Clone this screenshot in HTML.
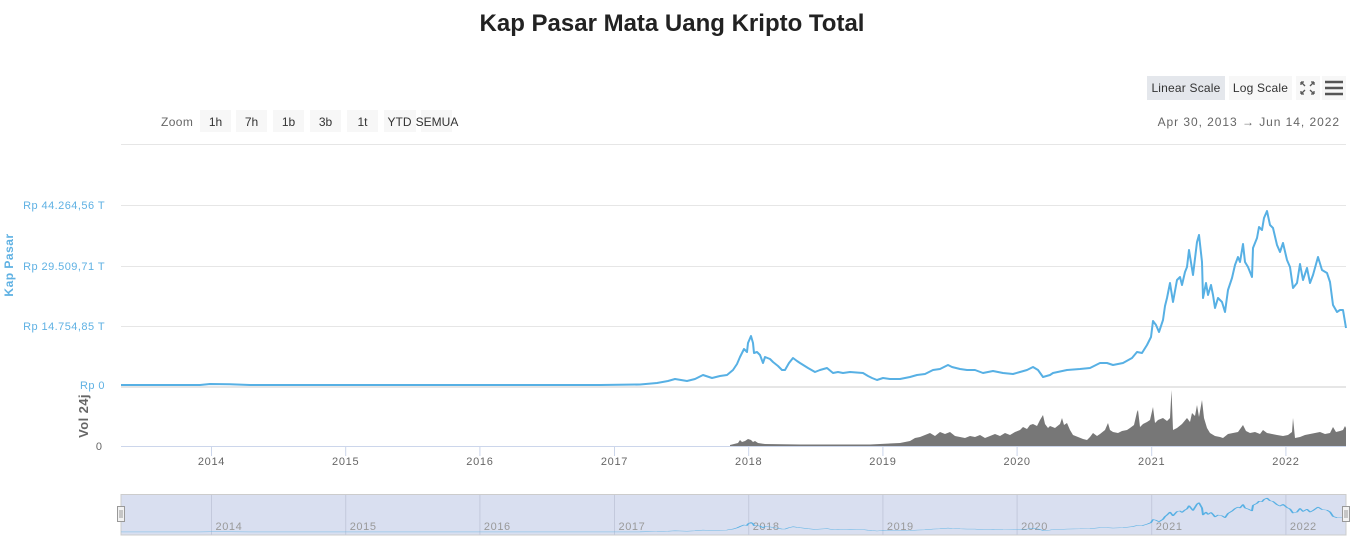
<!DOCTYPE html>
<html><head><meta charset="utf-8">
<style>
html,body{margin:0;padding:0;background:#fff;}
svg{display:block;font-family:"Liberation Sans",Arial,sans-serif;}
</style></head>
<body>
<svg width="1356" height="545" viewBox="0 0 1356 545" xmlns="http://www.w3.org/2000/svg">
<rect width="1356" height="545" fill="#fff"/>
<!-- title -->
<text x="672" y="31" text-anchor="middle" font-size="24" font-weight="bold" fill="#222">Kap Pasar Mata Uang Kripto Total</text>

<!-- scale buttons -->
<rect x="1147" y="76" width="78" height="24" fill="#e4e7ec"/>
<text x="1186" y="92" text-anchor="middle" font-size="12" fill="#333" letter-spacing="0.2">Linear Scale</text>
<rect x="1229" y="76" width="63" height="24" fill="#f7f7f7"/>
<text x="1260.5" y="92" text-anchor="middle" font-size="12" fill="#333" letter-spacing="0.2">Log Scale</text>
<rect x="1296" y="76" width="24" height="24" fill="#f7f7f7"/>
<g stroke="#555" stroke-width="1.3" fill="none">
<path d="M1301,82 l4,4 M1301,82 h3 M1301,82 v3"/>
<path d="M1314,82 l-4,4 M1314,82 h-3 M1314,82 v3"/>
<path d="M1301,94 l4,-4 M1301,94 h3 M1301,94 v-3"/>
<path d="M1314,94 l-4,-4 M1314,94 h-3 M1314,94 v-3"/>
</g>
<rect x="1322" y="76" width="24" height="24" fill="#f7f7f7"/>
<g stroke="#555" stroke-width="2.5">
<line x1="1325" y1="82" x2="1343" y2="82"/>
<line x1="1325" y1="88" x2="1343" y2="88"/>
<line x1="1325" y1="94" x2="1343" y2="94"/>
</g>

<!-- zoom buttons -->
<text x="161" y="126" font-size="12" fill="#666" letter-spacing="0.4">Zoom</text>
<g fill="#f7f7f7">
<rect x="200" y="110" width="31" height="22"/>
<rect x="236" y="110" width="31" height="22"/>
<rect x="273" y="110" width="31" height="22"/>
<rect x="310" y="110" width="31" height="22"/>
<rect x="347" y="110" width="31" height="22"/>
<rect x="384" y="110" width="32" height="22"/>
<rect x="421" y="110" width="31" height="22"/>
</g>
<g font-size="12" fill="#333" text-anchor="middle">
<text x="215.5" y="126">1h</text>
<text x="251.5" y="126">7h</text>
<text x="288.5" y="126">1b</text>
<text x="325.5" y="126">3b</text>
<text x="362.5" y="126">1t</text>
<text x="399.5" y="126">YTD</text>
<text x="437" y="126">SEMUA</text>
</g>
<text x="1340" y="126" text-anchor="end" font-size="12" fill="#666" letter-spacing="0.95">Apr 30, 2013 → Jun 14, 2022</text>

<!-- top separator -->
<line x1="121" y1="144.5" x2="1346" y2="144.5" stroke="#e6e6e6"/>

<!-- gridlines -->
<g stroke="#e6e6e6" stroke-width="1">
<line x1="121" y1="205.5" x2="1346" y2="205.5"/>
<line x1="121" y1="266.5" x2="1346" y2="266.5"/>
<line x1="121" y1="326.5" x2="1346" y2="326.5"/>
</g>
<line x1="121" y1="387" x2="1346" y2="387" stroke="#e6e6e6" stroke-width="2"/>

<!-- y labels -->
<g font-size="11" fill="#5fb1e3" text-anchor="end" letter-spacing="0.45">
<text x="105" y="209">Rp 44.264,56 T</text>
<text x="105" y="270">Rp 29.509,71 T</text>
<text x="105" y="330">Rp 14.754,85 T</text>
<text x="105" y="389">Rp 0</text>
</g>
<text transform="translate(13,265) rotate(-90)" text-anchor="middle" font-size="12" font-weight="bold" fill="#5fb1e3" letter-spacing="0.5">Kap Pasar</text>
<text transform="translate(88,416) rotate(-90)" text-anchor="middle" font-size="13" font-weight="bold" fill="#666" letter-spacing="0.4">Vol 24j</text>
<text x="102" y="450" text-anchor="end" font-size="11" fill="#666">0</text>

<!-- volume -->
<path fill="#777" d="M730,446 L730,445 L738,443 L740,440 L742,442 L745,441 L748,439 L751,440 L753,442 L755,441 L758,443 L765,444 L800,444.5 L870,444.5 L880,444 L900,443 L910,441 L915,438 L920,437 L925,435 L930,433 L935,436 L940,432 L945,434 L950,432 L955,436 L960,437 L965,438 L970,436 L975,437 L980,435 L985,438 L990,436 L995,434 L1000,436 L1005,433 L1010,435 L1015,432 L1020,430 L1023,427 L1027,429 L1030,425 L1033,424 L1037,426 L1040,420 L1043,415 L1045,424 L1048,428 L1050,426 L1055,428 L1060,424 L1062,418 L1064,425 L1067,423 L1070,430 L1073,435 L1078,437 L1083,439 L1087,440 L1090,437 L1093,433 L1097,436 L1100,434 L1105,430 L1108,423 L1110,430 L1113,432 L1118,433 L1122,431 L1127,430 L1130,428 L1134,425 L1137,412 L1138,410 L1140,427 L1143,424 L1147,422 L1150,420 L1153,407 L1155,423 L1158,420 L1163,418 L1167,421 L1170,418 L1171.5,390 L1173,430 L1177,428 L1182,424 L1187,418 L1190,422 L1192,413 L1195,416 L1197,405 L1199,417 L1202,400 L1204,418 L1207,428 L1210,433 L1215,436 L1220,437 L1223,438 L1228,434 L1233,433 L1238,432 L1243,425 L1246,431 L1250,433 L1255,432 L1260,434 L1263,430 L1267,433 L1272,434 L1277,435 L1283,436 L1288,435 L1292,432 L1293,418 L1295,438 L1300,437 L1305,435 L1310,434 L1315,433 L1320,432 L1325,434 L1330,433 L1333,427 L1336,432 L1340,431 L1343,430 L1345,426 L1346,428 L1346,446 Z"/>

<!-- x axis -->
<line x1="121" y1="446.5" x2="1346" y2="446.5" stroke="#ccd6eb"/>
<g stroke="#ccd6eb">
<line x1="211.5" y1="446" x2="211.5" y2="456"/>
<line x1="345.7" y1="446" x2="345.7" y2="456"/>
<line x1="479.9" y1="446" x2="479.9" y2="456"/>
<line x1="614.5" y1="446" x2="614.5" y2="456"/>
<line x1="748.7" y1="446" x2="748.7" y2="456"/>
<line x1="882.9" y1="446" x2="882.9" y2="456"/>
<line x1="1017.1" y1="446" x2="1017.1" y2="456"/>
<line x1="1151.7" y1="446" x2="1151.7" y2="456"/>
<line x1="1285.9" y1="446" x2="1285.9" y2="456"/>
</g>
<g font-size="11" fill="#666" text-anchor="middle" letter-spacing="0.7">
<text x="211.5" y="465">2014</text>
<text x="345.7" y="465">2015</text>
<text x="479.9" y="465">2016</text>
<text x="614.5" y="465">2017</text>
<text x="748.7" y="465">2018</text>
<text x="882.9" y="465">2019</text>
<text x="1017.1" y="465">2020</text>
<text x="1151.7" y="465">2021</text>
<text x="1285.9" y="465">2022</text>
</g>

<!-- main series -->
<path id="ser" fill="none" stroke="#57b0e4" stroke-width="2" stroke-linejoin="round" d="M121,385 L200,385 L210,384 L230,384.3 L250,385 L600,385 L640,384.5 L657,383 L668,381 L675,379 L687,381 L695,379 L703,375 L712,378 L720,376 L727,375 L733,370 L737,364 L740,357 L744,349 L747,352 L748,343 L751,336 L753,343 L754,353 L757,352 L760,355 L763,363 L765,357 L770,359 L773,362 L778,366 L782,370 L785,370 L789,363 L793,358 L797,361 L800,363 L808,368 L815,372 L820,370 L827,368 L833,373 L838,372 L843,373 L850,372 L863,373 L868,376 L872,378 L877,380 L883,378 L890,379 L900,379 L910,377 L917,375 L925,374 L933,370 L940,369 L948,365 L952,367 L960,369 L967,370 L975,370 L983,373 L993,371 L1003,373 L1013,374 L1020,372 L1027,370 L1033,367 L1038,370 L1043,377 L1050,375 L1053,373 L1067,370 L1080,369 L1090,368 L1100,363 L1107,363 L1113,365 L1123,363 L1132,358 L1137,352 L1142,353 L1147,345 L1151,337 L1153,321 L1156,325 L1159,332 L1163,320 L1165,306 L1167,298 L1170,283 L1173,302 L1177,280 L1180,277 L1182,285 L1185,272 L1187,267 L1189,250 L1193,275 L1197,242 L1199,235 L1202,262 L1203,298 L1206,283 L1208,295 L1211,285 L1213,295 L1215,308 L1218,298 L1222,302 L1225,312 L1228,290 L1232,278 L1235,265 L1238,257 L1240,262 L1243,244 L1245,262 L1248,267 L1252,277 L1253,248 L1257,238 L1259,227 L1262,230 L1264,218 L1267,211 L1270,225 L1273,228 L1277,245 L1280,252 L1283,243 L1287,260 L1290,267 L1293,288 L1297,283 L1300,264 L1303,280 L1307,268 L1310,283 L1313,275 L1318,257 L1322,270 L1327,273 L1330,282 L1333,305 L1337,312 L1340,310 L1343,310 L1346,328"/>

<!-- navigator -->
<rect x="121" y="494.5" width="1225" height="40.5" fill="#d9dff0" stroke="#cccccc"/>
<g stroke="#c3c9dc">
<line x1="211.5" y1="495" x2="211.5" y2="535"/>
<line x1="345.7" y1="495" x2="345.7" y2="535"/>
<line x1="479.9" y1="495" x2="479.9" y2="535"/>
<line x1="614.5" y1="495" x2="614.5" y2="535"/>
<line x1="748.7" y1="495" x2="748.7" y2="535"/>
<line x1="882.9" y1="495" x2="882.9" y2="535"/>
<line x1="1017.1" y1="495" x2="1017.1" y2="535"/>
<line x1="1151.7" y1="495" x2="1151.7" y2="535"/>
<line x1="1285.9" y1="495" x2="1285.9" y2="535"/>
</g>
<g font-size="11" fill="#999" letter-spacing="0.6">
<text x="215.5" y="530">2014</text>
<text x="349.7" y="530">2015</text>
<text x="483.9" y="530">2016</text>
<text x="618.5" y="530">2017</text>
<text x="752.7" y="530">2018</text>
<text x="886.9" y="530">2019</text>
<text x="1021.1" y="530">2020</text>
<text x="1155.7" y="530">2021</text>
<text x="1289.9" y="530">2022</text>
</g>
<use href="#ser" transform="matrix(1 0 0 0.195 0 456.9)" style="stroke:#6aa8de;stroke-width:1;vector-effect:non-scaling-stroke"/>
<g fill="#f2f2f2" stroke="#999">
<rect x="117.5" y="506.5" width="7" height="15"/>
<rect x="1342.5" y="506.5" width="7" height="15"/>
</g>
<g stroke="#999">
<line x1="120" y1="510" x2="120" y2="518"/><line x1="122" y1="510" x2="122" y2="518"/>
<line x1="1345" y1="510" x2="1345" y2="518"/><line x1="1347" y1="510" x2="1347" y2="518"/>
</g>
</svg>
</body></html>
